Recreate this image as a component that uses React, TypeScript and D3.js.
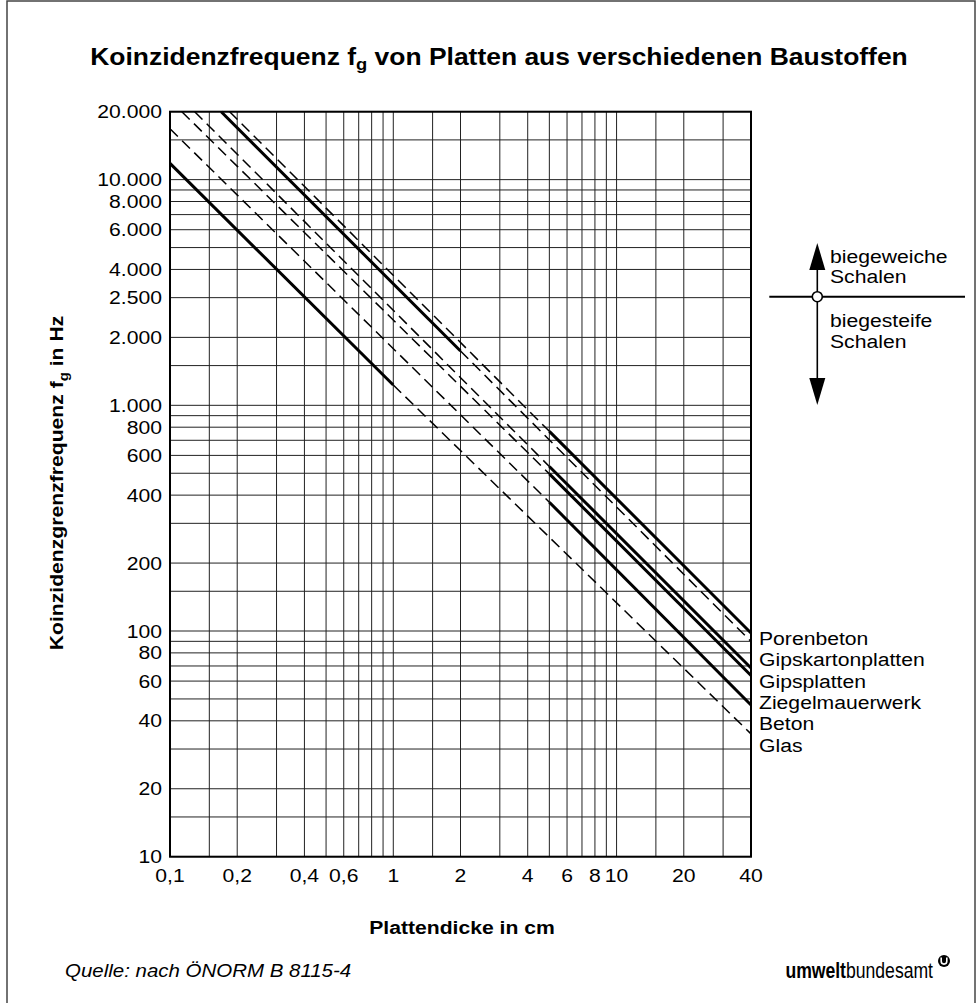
import React from "react";
import * as d3 from "d3";

const W = 978;
const H = 1003;

// Axis grid values
const xGrid = [0.1, 0.15, 0.2, 0.3, 0.4, 0.5, 0.6, 0.7, 0.8, 0.9, 1, 1.5, 2, 3, 4, 5, 6, 7, 8, 9, 10, 15, 20, 30, 40];
const yGrid = [10, 15, 20, 30, 40, 50, 60, 70, 80, 90, 100, 150, 200, 300, 400, 500, 600, 700, 800, 900, 1000, 1500, 2000, 3000, 4000, 5000, 6000, 7000, 8000, 9000, 10000, 15000, 20000];

// Tick labels
const xTickValues = [0.1, 0.2, 0.4, 0.6, 1, 2, 4, 6, 8, 10, 20, 40];
const xTickLabels = ["0,1", "0,2", "0,4", "0,6", "1", "2", "4", "6", "8", "10", "20", "40"];
const yTickValues = [20000, 10000, 8000, 6000, 4000, 3000, 2000, 1000, 800, 600, 400, 200, 100, 80, 60, 40, 20, 10];
const yTickLabels = ["20.000", "10.000", "8.000", "6.000", "4.000", "2.500", "2.000", "1.000", "800", "600", "400", "200", "100", "80", "60", "40", "20", "10"];

// Materials (top to bottom at right end)
const materials = ["Porenbeton", "Gipskartonplatten", "Gipsplatten", "Ziegelmauerwerk", "Beton", "Glas"];
// thickness (cm) of the three points of each line: start, break, end
const thickness = [
  [0.185, 5, 40],
  [0.1695, 2, 40],
  [0.129, 5, 40],
  [0.113, 5, 40],
  [0.1, 5, 40],
  [0.1, 1, 40],
];
// coincidence frequency (Hz) at those points
const frequency = [
  [20000, 767, 98],
  [20000, 1740, 89.9],
  [20000, 536, 68.6],
  [20000, 497, 63.5],
  [16800, 372, 47],
  [11800, 1230, 35],
];
// is the first segment (start -> break) solid? the second one is the opposite
const firstSolid = [false, true, false, false, false, true];

const FONT = "'Liberation Sans', Arial, Helvetica, sans-serif";
const SX = 1.15;

function T({ x, y, anchor = "start", size = 18.4, weight = "normal", fstyle = "normal", rotate = 0, sx = SX, children }: any) {
  return (
    <text
      transform={`translate(${x},${y}) rotate(${rotate}) scale(${sx},1)`}
      textAnchor={anchor}
      fontSize={size}
      fontWeight={weight}
      fontStyle={fstyle}
      fontFamily={FONT}
      fill="#000"
    >
      {children}
    </text>
  );
}

export default function App() {
  const left = 170, right = 751, top = 111.7, bottom = 856.7;
  const x = d3.scaleLog().domain([0.1, 40]).range([left, right]);
  const y = d3.scaleLog().domain([10, 20000]).range([bottom, top]);
  const line = d3.line<[number, number]>().x((d) => x(d[0])).y((d) => y(d[1]));

  const segs: any[] = [];
  materials.forEach((m, i) => {
    const t = thickness[i], f = frequency[i];
    const s1: [number, number][] = [[t[0], f[0]], [t[1], f[1]]];
    const s2: [number, number][] = [[t[1], f[1]], [t[2], f[2]]];
    segs.push({ key: m + "1", d: line(s1), solid: firstSolid[i] });
    segs.push({ key: m + "2", d: line(s2), solid: !firstSolid[i] });
  });

  const ax = 817.3, ay = 296.7;

  return (
    <svg width={W} height={H} style={{ position: "absolute", left: 0, top: 0, background: "#fff" }}>
      <rect x={0} y={0} width={W} height={H} fill="#fff" />
      {/* outer frame */}
      <rect x={7} y={1} width={968} height={1005} fill="none" stroke="#444" strokeWidth={1.5} />

      {/* title */}
      <T x={499} y={65} anchor="middle" size={23} weight="bold">
        Koinzidenzfrequenz f
        <tspan fontSize={16} dy={5}>g</tspan>
        <tspan dy={-5}> von Platten aus verschiedenen Baustoffen</tspan>
      </T>

      {/* grid */}
      <g stroke="#222" strokeWidth={1}>
        {xGrid.map((v) => (
          <line key={"gx" + v} x1={x(v)} x2={x(v)} y1={top} y2={bottom} />
        ))}
        {yGrid.map((v) => (
          <line key={"gy" + v} x1={left} x2={right} y1={y(v)} y2={y(v)} />
        ))}
      </g>
      <rect x={left} y={top} width={right - left} height={bottom - top} fill="none" stroke="#000" strokeWidth={2} />

      {/* material lines */}
      <g fill="none" stroke="#000">
        {segs.map((s) => (
          <path
            key={s.key}
            d={s.d}
            strokeWidth={s.solid ? 3 : 1.5}
            strokeDasharray={s.solid ? undefined : "11,6"}
          />
        ))}
      </g>

      {/* tick labels */}
      {yTickValues.map((v, i) => (
        <T key={"yt" + v} x={162} y={y(v) + 6.6} anchor="end">
          {yTickLabels[i]}
        </T>
      ))}
      {xTickValues.map((v, i) => (
        <T key={"xt" + v} x={x(v)} y={881.7} anchor="middle">
          {xTickLabels[i]}
        </T>
      ))}

      {/* axis titles */}
      <T x={462} y={934} anchor="middle" size={18.4} weight="bold">
        Plattendicke in cm
      </T>
      <T x={63} y={483} anchor="middle" size={18.4} weight="bold" rotate={-90}>
        Koinzidenzgrenzfrequenz f
        <tspan fontSize={13} dy={5}>g</tspan>
        <tspan dy={-5}> in Hz</tspan>
      </T>

      {/* material labels */}
      {materials.map((m, i) => (
        <T key={"ml" + m} x={759} y={645 + i * 21.3}>
          {m}
        </T>
      ))}

      {/* right diagram */}
      <line x1={ax} x2={ax} y1={262} y2={382} stroke="#000" strokeWidth={1.6} />
      <path d={`M${ax},243 L${ax - 8},270 L${ax + 8},270 Z`} fill="#000" />
      <path d={`M${ax},405 L${ax - 8},378 L${ax + 8},378 Z`} fill="#000" />
      <line x1={769.3} x2={965} y1={ay} y2={ay} stroke="#000" strokeWidth={2} />
      <circle cx={ax} cy={ay} r={5} fill="#fff" stroke="#000" strokeWidth={1.6} />
      <T x={830} y={263.3}>biegeweiche</T>
      <T x={830} y={283.3}>Schalen</T>
      <T x={830} y={326.7}>biegesteife</T>
      <T x={830} y={348.3}>Schalen</T>

      {/* footer */}
      <T x={65} y={977} size={17.8} fstyle="italic">
        Quelle: nach ÖNORM B 8115-4
      </T>
      <T x={933} y={978} anchor="end" size={22} sx={0.8}>
        <tspan fontWeight="bold">umwelt</tspan>
        <tspan fontWeight="300">bundesamt</tspan>
      </T>
      <circle cx={944} cy={961} r={6} fill="#000" />
      <path d="M941.2,957.5 v3.8 a2.8,2.8 0 0 0 5.6,0 v-3.8" fill="none" stroke="#fff" strokeWidth={1.6} />
    </svg>
  );
}
